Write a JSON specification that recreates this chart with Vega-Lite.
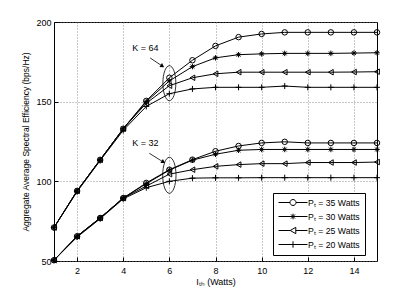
{
  "$schema": "https://vega.github.io/schema/vega-lite/v6.json",
  "width": 323,
  "height": 239,
  "autosize": "none",
  "padding": {"left": 54, "top": 22, "right": 38, "bottom": 33},
  "background": "white",
  "view": {"stroke": "black", "strokeWidth": 1},
  "config": {
    "font": "Liberation Sans",
    "axis": {"labelFont": "Liberation Sans", "titleFont": "Liberation Sans", "labelColor": "black", "titleColor": "black", "titleFontWeight": "normal", "labelFontSize": 9, "tickColor": "black", "domain": false, "grid": true, "gridDash": [1, 2], "gridColor": "#777", "gridWidth": 0.8}
  },
  "resolve": {"scale": {"shape": "independent"}, "legend": {"shape": "independent"}},
  "datasets": {
    "main": [
      {"K":64,"P":35,"x":1,"y":71},{"K":64,"P":35,"x":2,"y":94},{"K":64,"P":35,"x":3,"y":113.5},{"K":64,"P":35,"x":4,"y":133},{"K":64,"P":35,"x":5,"y":150.5},{"K":64,"P":35,"x":6,"y":165},{"K":64,"P":35,"x":7,"y":176},{"K":64,"P":35,"x":8,"y":185},{"K":64,"P":35,"x":9,"y":190.5},{"K":64,"P":35,"x":10,"y":192.5},{"K":64,"P":35,"x":11,"y":193.5},{"K":64,"P":35,"x":12,"y":193.5},{"K":64,"P":35,"x":13,"y":193.5},{"K":64,"P":35,"x":14,"y":193.5},{"K":64,"P":35,"x":15,"y":193.5},
      {"K":64,"P":30,"x":1,"y":71},{"K":64,"P":30,"x":2,"y":94},{"K":64,"P":30,"x":3,"y":113.5},{"K":64,"P":30,"x":4,"y":133},{"K":64,"P":30,"x":5,"y":150},{"K":64,"P":30,"x":6,"y":163},{"K":64,"P":30,"x":7,"y":172},{"K":64,"P":30,"x":8,"y":177.5},{"K":64,"P":30,"x":9,"y":179.5},{"K":64,"P":30,"x":10,"y":180},{"K":64,"P":30,"x":11,"y":180.3},{"K":64,"P":30,"x":12,"y":180.3},{"K":64,"P":30,"x":13,"y":180.3},{"K":64,"P":30,"x":14,"y":180.5},{"K":64,"P":30,"x":15,"y":180.7},
      {"K":64,"P":25,"x":1,"y":71},{"K":64,"P":25,"x":2,"y":94},{"K":64,"P":25,"x":3,"y":113.5},{"K":64,"P":25,"x":4,"y":133},{"K":64,"P":25,"x":5,"y":149},{"K":64,"P":25,"x":6,"y":160},{"K":64,"P":25,"x":7,"y":165},{"K":64,"P":25,"x":8,"y":167.5},{"K":64,"P":25,"x":9,"y":168.5},{"K":64,"P":25,"x":10,"y":168.5},{"K":64,"P":25,"x":11,"y":168.5},{"K":64,"P":25,"x":12,"y":168.5},{"K":64,"P":25,"x":13,"y":168.5},{"K":64,"P":25,"x":14,"y":168.6},{"K":64,"P":25,"x":15,"y":168.8},
      {"K":64,"P":20,"x":1,"y":71},{"K":64,"P":20,"x":2,"y":93.5},{"K":64,"P":20,"x":3,"y":113},{"K":64,"P":20,"x":4,"y":132},{"K":64,"P":20,"x":5,"y":147},{"K":64,"P":20,"x":6,"y":155},{"K":64,"P":20,"x":7,"y":158},{"K":64,"P":20,"x":8,"y":159},{"K":64,"P":20,"x":9,"y":159},{"K":64,"P":20,"x":10,"y":159},{"K":64,"P":20,"x":11,"y":159.8},{"K":64,"P":20,"x":12,"y":159},{"K":64,"P":20,"x":13,"y":159},{"K":64,"P":20,"x":14,"y":159},{"K":64,"P":20,"x":15,"y":159},
      {"K":32,"P":35,"x":1,"y":50.5},{"K":32,"P":35,"x":2,"y":65.5},{"K":32,"P":35,"x":3,"y":77},{"K":32,"P":35,"x":4,"y":89.5},{"K":32,"P":35,"x":5,"y":99},{"K":32,"P":35,"x":6,"y":107.3},{"K":32,"P":35,"x":7,"y":113.6},{"K":32,"P":35,"x":8,"y":118.9},{"K":32,"P":35,"x":9,"y":122.2},{"K":32,"P":35,"x":10,"y":124.1},{"K":32,"P":35,"x":11,"y":124.8},{"K":32,"P":35,"x":12,"y":124.1},{"K":32,"P":35,"x":13,"y":124.1},{"K":32,"P":35,"x":14,"y":124.1},{"K":32,"P":35,"x":15,"y":124.1},
      {"K":32,"P":30,"x":1,"y":50.5},{"K":32,"P":30,"x":2,"y":65.5},{"K":32,"P":30,"x":3,"y":77},{"K":32,"P":30,"x":4,"y":89.5},{"K":32,"P":30,"x":5,"y":98.5},{"K":32,"P":30,"x":6,"y":107},{"K":32,"P":30,"x":7,"y":113.3},{"K":32,"P":30,"x":8,"y":117},{"K":32,"P":30,"x":9,"y":119.5},{"K":32,"P":30,"x":10,"y":120},{"K":32,"P":30,"x":11,"y":120},{"K":32,"P":30,"x":12,"y":120},{"K":32,"P":30,"x":13,"y":120},{"K":32,"P":30,"x":14,"y":120},{"K":32,"P":30,"x":15,"y":120},
      {"K":32,"P":25,"x":1,"y":50.5},{"K":32,"P":25,"x":2,"y":65.5},{"K":32,"P":25,"x":3,"y":77},{"K":32,"P":25,"x":4,"y":89.5},{"K":32,"P":25,"x":5,"y":97},{"K":32,"P":25,"x":6,"y":104.5},{"K":32,"P":25,"x":7,"y":107.3},{"K":32,"P":25,"x":8,"y":109.4},{"K":32,"P":25,"x":9,"y":110.5},{"K":32,"P":25,"x":10,"y":111.1},{"K":32,"P":25,"x":11,"y":111.1},{"K":32,"P":25,"x":12,"y":111.8},{"K":32,"P":25,"x":13,"y":111.8},{"K":32,"P":25,"x":14,"y":111.8},{"K":32,"P":25,"x":15,"y":112.1},
      {"K":32,"P":20,"x":1,"y":50.5},{"K":32,"P":20,"x":2,"y":65},{"K":32,"P":20,"x":3,"y":76.5},{"K":32,"P":20,"x":4,"y":89},{"K":32,"P":20,"x":5,"y":96},{"K":32,"P":20,"x":6,"y":100},{"K":32,"P":20,"x":7,"y":102},{"K":32,"P":20,"x":8,"y":102.2},{"K":32,"P":20,"x":9,"y":102.2},{"K":32,"P":20,"x":10,"y":102.3},{"K":32,"P":20,"x":11,"y":102.3},{"K":32,"P":20,"x":12,"y":102.3},{"K":32,"P":20,"x":13,"y":102.3},{"K":32,"P":20,"x":14,"y":102.3},{"K":32,"P":20,"x":15,"y":102.3}
    ],
    "ellipses": [{"x": 6, "y": 161.6, "s": 1225}, {"x": 6, "y": 103.8, "s": 1296}],
    "labels": [{"x": 4.96, "y": 183.6, "t": "K = 64"}, {"x": 4.96, "y": 124.1, "t": "K = 32"}],
    "arrows": [{"x": 5.17, "y": 177.4, "x2": 5.70, "y2": 172.3, "ang": 33.7}, {"x": 5.13, "y": 117.6, "x2": 5.74, "y2": 112.1, "ang": 31.8}]
  },
  "layer": [
    {
      "data": {"name": "main"},
      "mark": {"type": "line", "color": "black", "strokeWidth": 1, "clip": true},
      "encoding": {
        "x": {"field": "x", "type": "quantitative", "scale": {"domain": [1, 15], "nice": false, "zero": false},
          "axis": {"values": [2, 4, 6, 8, 10, 12, 14], "title": "Iₜₕ (Watts)", "titleFontSize": 9, "tickSize": -4, "labelPadding": 9, "titlePadding": 2}},
        "y": {"field": "y", "type": "quantitative", "scale": {"domain": [50, 200], "nice": false, "zero": false},
          "axis": {"values": [50, 100, 150, 200], "title": "Aggregate Average Spectral Efficiency (bps/Hz)", "titleFontSize": 8.5, "tickSize": -4, "labelPadding": 7, "titlePadding": 5}},
        "detail": [{"field": "K"}, {"field": "P"}]
      }
    },
    {
      "data": {"name": "main"},
      "mark": {"type": "point", "filled": false, "color": "black", "strokeWidth": 1, "size": 30, "opacity": 1},
      "encoding": {
        "x": {"field": "x", "type": "quantitative"},
        "y": {"field": "y", "type": "quantitative"},
        "shape": {"field": "P", "type": "nominal",
          "scale": {"domain": [35, 30, 25, 20], "range": ["circle", "M-1,0H1M0,-1V1M-0.7,-0.7L0.7,0.7M-0.7,0.7L0.7,-0.7", "triangle-left", "M-1.1,0H1.1M0,-1.1V1.1"]},
          "legend": null
        }
      }
    },
    {
      "data": {"name": "main"},
      "transform": [{"filter": "datum.x > 1000"}],
      "mark": {"type": "point", "filled": false, "color": "black", "strokeWidth": 1, "opacity": 1},
      "encoding": {
        "x": {"field": "x", "type": "quantitative"},
        "y": {"field": "y", "type": "quantitative"},
        "shape": {"field": "P", "type": "nominal",
          "scale": {"domain": [35, 30, 25, 20], "range": [
            "M-1,0H1.875M3.375,0H6.25M1.875,0A0.75,0.75 0 1,1 3.375,0A0.75,0.75 0 1,1 1.875,0",
            "M-1,0H6.25M2.625,-0.7V0.7M2.13,-0.5L3.12,0.5M2.13,0.5L3.12,-0.5",
            "M-1,0H1.925M3.325,0H6.25M1.925,0L3.325,-0.8L3.325,0.8Z",
            "M-1,0H6.25M2.625,-0.8V0.8"]},
          "legend": {"orient": "none", "legendX": 219, "legendY": 171, "title": null, "symbolSize": 64, "labelOffset": 21, "padding": 5, "rowPadding": 3,
            "strokeColor": "black", "fillColor": "white", "labelFont": "Liberation Sans", "labelFontSize": 8.7, "labelColor": "black",
            "symbolStrokeWidth": 1, "symbolStrokeColor": "black", "symbolFillColor": "transparent",
            "labelExpr": "'Pₜ = ' + datum.label + ' Watts'"}
        }
      }
    },
    {
      "data": {"name": "ellipses"},
      "mark": {"type": "point", "filled": false, "color": "black", "strokeWidth": 0.8, "opacity": 1, "shape": "M0,-1A0.37,1 0 1,1 0,1A0.37,1 0 1,1 0,-1"},
      "encoding": {
        "x": {"field": "x", "type": "quantitative"},
        "y": {"field": "y", "type": "quantitative"},
        "size": {"field": "s", "type": "quantitative", "scale": null}
      }
    },
    {
      "data": {"name": "labels"},
      "mark": {"type": "text", "font": "Liberation Sans", "fontSize": 9, "color": "black", "align": "center", "baseline": "middle"},
      "encoding": {
        "x": {"field": "x", "type": "quantitative"},
        "y": {"field": "y", "type": "quantitative"},
        "text": {"field": "t"}
      }
    },
    {
      "data": {"name": "arrows"},
      "mark": {"type": "rule", "color": "black", "strokeWidth": 0.8},
      "encoding": {
        "x": {"field": "x", "type": "quantitative"},
        "y": {"field": "y", "type": "quantitative"},
        "x2": {"field": "x2"},
        "y2": {"field": "y2"}
      }
    },
    {
      "data": {"name": "arrows"},
      "mark": {"type": "point", "filled": true, "color": "black", "shape": "triangle-right", "size": 22, "opacity": 1},
      "encoding": {
        "x": {"field": "x2", "type": "quantitative"},
        "y": {"field": "y2", "type": "quantitative"},
        "angle": {"field": "ang", "type": "quantitative", "scale": null}
      }
    }
  ]
}
